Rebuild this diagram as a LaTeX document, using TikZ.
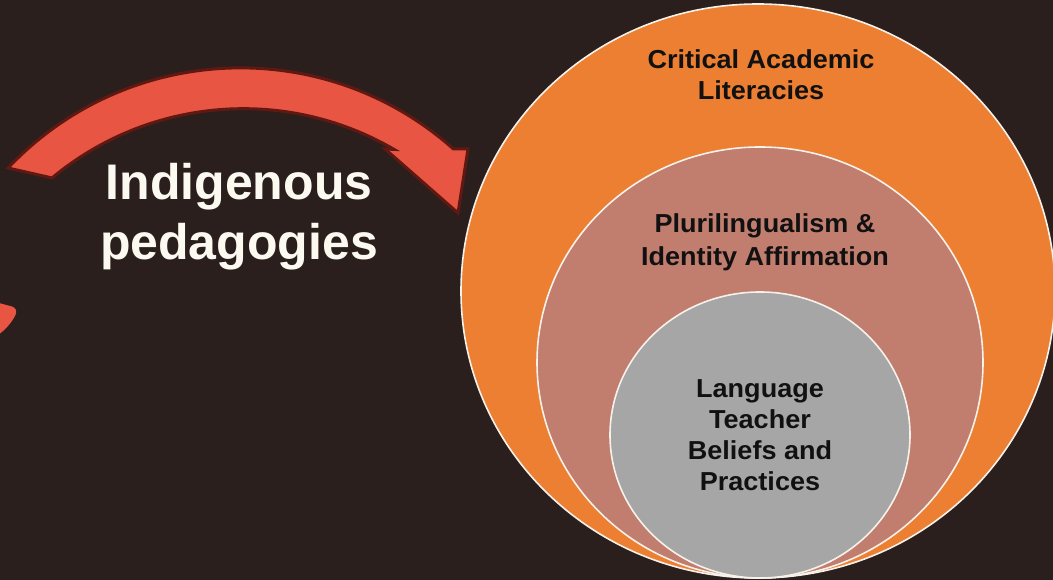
\documentclass[tikz,border=0pt]{standalone}
\usepackage{fontspec}
\setmainfont{Liberation Sans}
\newfontfamily\ringfont[FakeStretch=1.04]{Liberation Sans}
\definecolor{bgdark}{HTML}{2A1F1D}
\definecolor{ringouter}{HTML}{EC7F32}
\definecolor{ringmiddle}{HTML}{C17D6E}
\definecolor{ringinner}{HTML}{A6A6A6}
\definecolor{ringedge}{HTML}{F6F1EA}
\definecolor{arrowred}{HTML}{E85542}
\definecolor{arrowedge}{HTML}{5F1912}
\definecolor{lighttext}{HTML}{FCF9F0}
\definecolor{darktext}{HTML}{111111}
\begin{document}
\begin{tikzpicture}[x=1pt,y=1pt,
  ring/.style={draw=ringedge, line width=1.6pt},
  ringlabel/.style={font=\ringfont\bfseries\fontsize{26}{31}\selectfont,
    text=darktext, align=center, anchor=base, inner sep=0pt},
  arrowbody/.style={fill=arrowred, draw=arrowedge, line width=3pt, line join=miter},
  bigtitle/.style={font=\bfseries\fontsize{50}{60}\selectfont,
    text=lighttext, align=center, anchor=base, inner sep=0pt}]
\useasboundingbox (0,0) rectangle (1053,580);
\clip (0,0) rectangle (1053,580);
\fill[bgdark] (0,0) rectangle (1053,580);

% curved arrow sweeping over the title
\filldraw[arrowbody] (8,412) arc[start angle=136.6, end angle=48.3, radius=320]
  -- (468,431) -- (458,367) -- (385,431) -- (394,430.6)
  arc[start angle=59.75, end angle=129.8, radius=299] -- cycle;

% tip of a second arrow entering from the left edge
\fill[arrowred] (0,276.7) -- (12,273.5) .. controls (16,272) and (17,269) .. (15.5,265)
  .. controls (12,258) and (6,251) .. (0,246.5) -- cycle;

% multi-line labels are anchored on the baseline of their last line
\node[bigtitle] (title) at (239,320) {Indigenous\\pedagogies};

% nested rings, all touching at the bottom
\filldraw[ring, fill=ringouter] (758,289) ellipse [x radius=297, y radius=287];
\filldraw[ring, fill=ringmiddle] (760,217.5) ellipse [x radius=223, y radius=215.5];
\filldraw[ring, fill=ringinner] (760,145) ellipse [x radius=150, y radius=143];

\node[ringlabel] (literacies) at (761,480) {Critical Academic\\Literacies};
\node[ringlabel, font=\ringfont\bfseries\fontsize{26}{33}\selectfont] (identity) at (765,314)
  {Plurilingualism \&\\Identity Affirmation};
\node[ringlabel] (beliefs) at (760,89) {Language\\Teacher\\Beliefs and\\Practices};
\end{tikzpicture}
\end{document}
